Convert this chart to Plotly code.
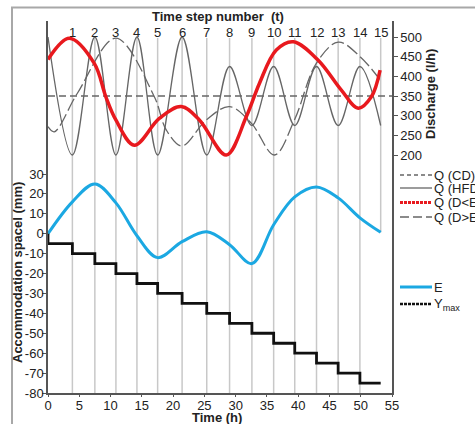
import plotly.graph_objects as go

# ---------------- data ----------------
step_times = [0, 3.9, 7.49, 10.86, 14.22, 17.53, 21.44, 25.38, 29.03, 32.6,
              36.08, 39.45, 42.93, 46.39, 49.87, 53.19]
step_labels = ["1", "2", "3", "4", "5", "6", "7", "8", "9", "10",
               "11", "12", "13", "14", "15"]

q_cd_t = [0, 55]
q_cd = [350, 350]

q_hfd = [500, 200, 500, 200, 500, 200, 500, 200, 425, 275, 425, 275, 425, 275, 425, 275]

q_dle_t = [0, 3.4, 7.4, 9.25, 10.85, 13.8, 17.8, 21.3, 24.2, 28.5, 31.7, 33.8,
           36.5, 39.2, 43.2, 46.9, 49.6, 51.7, 53.1]
q_dle = [443, 497, 433, 348, 289, 225, 293, 323, 289, 200, 297, 382,
         467, 488, 441, 365, 319, 348, 416]

q_dge_t = [0, 1.0, 4.7, 10.85, 17.0, 18.9, 21.4, 25.3, 29.0, 32.5, 36.2,
           39.4, 42.9, 46.4, 49.9, 53.1]
q_dge = [272, 259, 357, 497, 348, 264, 223, 289, 323, 281, 200,
         289, 433, 487, 450, 391]

e_vals = [0, 16, 25, 15.5, -1, -12, -4, 1, -5.5, -15, 4.5, 18.5, 23.5, 18, 8, 0.7]

ymax_levels = [-5, -10, -15, -20, -25, -30, -35, -40, -45, -50, -55, -60, -65, -70, -75]

x_ticks = [0, 5, 10, 15, 20, 25, 30, 35, 40, 45, 50, 55]
y_ticks = [-80, -70, -60, -50, -40, -30, -20, -10, 0, 10, 20, 30]
y_ticktext = ["-80", "-70", "-60", "-50", "-40", "-30", "-20", "-10", "0", "10", "20", "30"]
y2_ticks = [200, 250, 300, 350, 400, 450, 500]

# ---------------- layout geometry ----------------
W, H = 475, 424
L, R, T, B = 48, 83, 21, 31
PW = W - L - R
PH = H - T - B


def px_x(px):
    return (px - L) / PW


def px_y(py):
    return (H - B - py) / PH


FONT = "Arial, Liberation Sans, sans-serif"
TXT = "#222222"
GRAY = "#666666"
RED = "#E8191E"
BLUE = "#1BA8E2"

fig = go.Figure()

# upper panel: discharge
fig.add_trace(go.Scatter(x=q_cd_t, y=q_cd, yaxis="y2", mode="lines", name="Q (CD)",
                         line=dict(color=GRAY, width=1.3, dash="7px,4px"), showlegend=False))
fig.add_trace(go.Scatter(x=step_times, y=q_hfd, yaxis="y2", mode="lines", name="Q (HFD)",
                         line=dict(color=GRAY, width=1.3, shape="spline", smoothing=1),
                         showlegend=False))
fig.add_trace(go.Scatter(x=q_dge_t, y=q_dge, yaxis="y2", mode="lines", name="Q (D>E)",
                         line=dict(color=GRAY, width=1.3, dash="13px,4px", shape="spline",
                                   smoothing=1), showlegend=False))
fig.add_trace(go.Scatter(x=q_dle_t, y=q_dle, yaxis="y2", mode="lines", name="Q (D<E)",
                         line=dict(color=RED, width=3.5, shape="spline", smoothing=1),
                         showlegend=False))

# lower panel
fig.add_trace(go.Scatter(x=step_times, y=e_vals, yaxis="y", mode="lines", name="E",
                         line=dict(color=BLUE, width=3, shape="spline", smoothing=1),
                         showlegend=False))
fig.add_trace(go.Scatter(x=[0] + step_times, y=[0] + ymax_levels + [ymax_levels[-1]],
                         yaxis="y", mode="lines", name="Ymax",
                         line=dict(color="#111111", width=2.8, shape="hv"),
                         showlegend=False))

shapes = []
# vertical time-step grid lines
top_val = 30 + (174 - 38) / (219 / 110)
for i, t in enumerate(step_times[1:]):
    y0 = -80 if i < len(step_times) - 2 else e_vals[-1]
    shapes.append(dict(type="line", xref="x", yref="y", x0=t, x1=t, y0=y0, y1=top_val,
                       line=dict(color="#C8C8C8", width=1.5), layer="below"))

# outer frame
shapes.append(dict(type="rect", xref="paper", yref="paper", x0=px_x(12), x1=px_x(520),
                   y0=px_y(440), y1=px_y(7.5), line=dict(color="#A8A8A8", width=2),
                   layer="below"))

annotations = []
# top time-step labels
for t, lab in zip(step_times[1:], step_labels):
    annotations.append(dict(x=t, xref="x", y=px_y(33), yref="paper", text=lab,
                            showarrow=False, font=dict(family=FONT, size=13, color=TXT),
                            xanchor="center", yanchor="middle"))
annotations.append(dict(x=px_x(218), y=px_y(16), xref="paper", yref="paper",
                        text="<b>Time step number  (t)</b>", showarrow=False,
                        font=dict(family=FONT, size=13, color=TXT),
                        xanchor="center", yanchor="middle"))
annotations.append(dict(x=px_x(217), y=px_y(417), xref="paper", yref="paper",
                        text="<b>Time (h)</b>", showarrow=False,
                        font=dict(family=FONT, size=13, color=TXT),
                        xanchor="center", yanchor="middle"))
annotations.append(dict(x=px_x(17), y=px_y(273), xref="paper", yref="paper",
                        text="<b>Accommodation spacel (mm)</b>", showarrow=False,
                        textangle=-90, font=dict(family=FONT, size=13, color=TXT),
                        xanchor="center", yanchor="middle"))
annotations.append(dict(x=px_x(430), y=px_y(94), xref="paper", yref="paper",
                        text="<b>Discharge (l/h)</b>", showarrow=False,
                        textangle=-90, font=dict(family=FONT, size=13, color=TXT),
                        xanchor="center", yanchor="middle"))

# custom legend
legend_items = [
    ("Q (CD)", 175, dict(color=GRAY, width=1.3, dash="4px,3px")),
    ("Q (HFD)", 188, dict(color=GRAY, width=1.3)),
    ("Q (D<E)", 202.5, dict(color=RED, width=3, dash="3px,1px")),
    ("Q (D>E)", 217, dict(color=GRAY, width=1.3, dash="9px,4px")),
    ("E", 287, dict(color=BLUE, width=3)),
    ("Y<sub>max</sub>", 304, dict(color="#111111", width=2.5, dash="3px,1px")),
]
for text, py, ln in legend_items:
    shapes.append(dict(type="line", xref="paper", yref="paper", x0=px_x(400), x1=px_x(432),
                       y0=px_y(py), y1=px_y(py), line=ln))
    annotations.append(dict(x=px_x(432), y=px_y(py), xref="paper", yref="paper", text=text,
                            showarrow=False, font=dict(family=FONT, size=13, color=TXT),
                            xanchor="left", yanchor="middle"))

AX = dict(showline=True, linecolor="#555555", linewidth=1.5, ticks="outside",
          tickcolor="#555555", showgrid=False, zeroline=False,
          tickfont=dict(family=FONT, size=13, color=TXT))

fig.update_layout(
    width=W, height=H,
    margin=dict(l=L, r=R, t=T, b=B, pad=0),
    paper_bgcolor="white", plot_bgcolor="white",
    showlegend=False,
    xaxis=dict(range=[0, 55], tickvals=x_ticks, ticklen=2, ticklabelstandoff=-2, **AX),
    yaxis=dict(range=[-80, top_val + (38 - 21) * 110 / 219], tickvals=y_ticks,
               ticktext=y_ticktext, ticklen=4, ticklabelstandoff=-4, side="left", **AX),
    yaxis2=dict(range=[500 - (393 - 37) * 300 / 118, 500 + (37 - 21) * 300 / 118],
                tickvals=y2_ticks, ticklen=4, side="right",
                overlaying="y", **AX),
    shapes=shapes,
    annotations=annotations,
)

fig.write_html("out.html")
